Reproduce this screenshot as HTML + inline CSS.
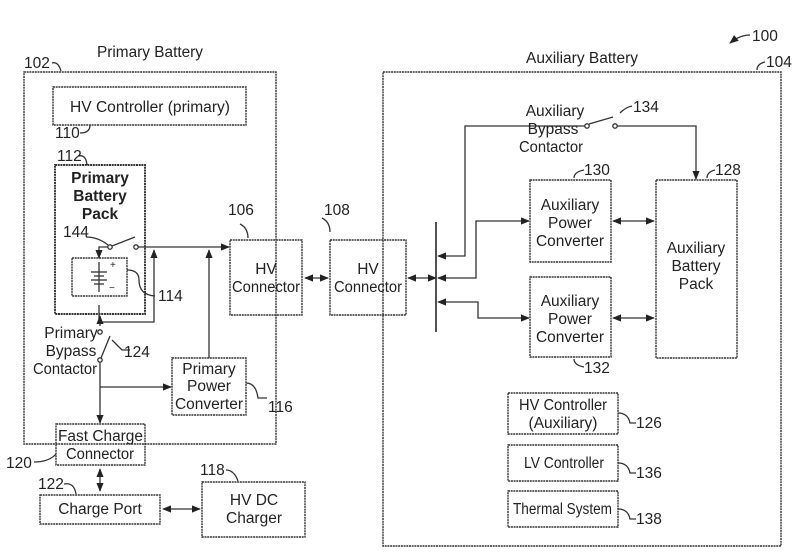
<!DOCTYPE html>
<html><head><meta charset="utf-8"><style>
html,body{margin:0;padding:0;background:#fff}
svg{display:block}
text{font-family:"Liberation Sans",sans-serif;fill:#222}
</style></head><body>
<svg width="797" height="557" viewBox="0 0 797 557" xmlns="http://www.w3.org/2000/svg">
<defs>
<marker id="a" viewBox="0 0 10 10" refX="9" refY="5" markerWidth="7" markerHeight="7" orient="auto-start-reverse"><path d="M0,1 L10,5 L0,9 z" fill="#222"/></marker>
</defs>
<g fill="none" stroke="#333" stroke-width="1.4" stroke-dasharray="2,0.7">
<rect x="24" y="72" width="252" height="372"/>
<rect x="53" y="87" width="193" height="38"/>
<rect x="55" y="165" width="90" height="149" stroke-width="1.9"/>
<rect x="72" y="258" width="55" height="38"/>
<rect x="230" y="240" width="72" height="75"/>
<rect x="330" y="240" width="76" height="75"/>
<rect x="172" y="358" width="74" height="57"/>
<rect x="56" y="424" width="89" height="41"/>
<rect x="40" y="495" width="120" height="29"/>
<rect x="202" y="482" width="103" height="55"/>
<rect x="383" y="72" width="398" height="474"/>
<rect x="530" y="180" width="81" height="82"/>
<rect x="530" y="277" width="81" height="80"/>
<rect x="656" y="180" width="81" height="178"/>
<rect x="508" y="393" width="110" height="41"/>
<rect x="508" y="445" width="110" height="36"/>
<rect x="508" y="491" width="110" height="36"/>
</g>
<g fill="none" stroke="#333" stroke-width="1.3">
<line x1="112" y1="246" x2="135" y2="237"/>
<circle cx="110" cy="247" r="2.2" fill="#fff"/>
<circle cx="136" cy="247" r="2.2" fill="#fff"/>
<path d="M108,247 H99 V258" marker-end="url(#a)"/>
<path d="M138,247 H229" marker-end="url(#a)"/>
<path d="M99,305 V322 H154 V250" marker-end="url(#a)"/>
<path d="M209,358 V250" marker-end="url(#a)"/>
<path d="M100,326 V316" marker-end="url(#a)"/>
<circle cx="100" cy="332" r="2.2" fill="#fff"/>
<circle cx="100" cy="360" r="2.2" fill="#fff"/>
<line x1="101" y1="358" x2="110" y2="336"/>
<path d="M100,362 V423" marker-end="url(#a)"/>
<path d="M100,387 H171" marker-end="url(#a)"/>
<path d="M100,469 V491" marker-start="url(#a)" marker-end="url(#a)"/>
<path d="M163,509 H200" marker-start="url(#a)" marker-end="url(#a)"/>
<path d="M305,278 H328" marker-start="url(#a)" marker-end="url(#a)"/>
<path d="M408,278 H436" marker-start="url(#a)" marker-end="url(#a)"/>
<line x1="436" y1="222" x2="436" y2="332" stroke-width="1.7"/>
<path d="M585,126 H465 V256 H438" marker-end="url(#a)"/>
<circle cx="587" cy="126" r="2.2" fill="#fff"/>
<circle cx="615" cy="126" r="2.2" fill="#fff"/>
<line x1="589" y1="124" x2="613" y2="117"/>
<path d="M617,126 H696 V179" marker-end="url(#a)"/>
<path d="M529,221 H476 V278 H438" marker-start="url(#a)" marker-end="url(#a)"/>
<path d="M438,302 H478 V318 H529" marker-start="url(#a)" marker-end="url(#a)"/>
<path d="M613,221 H654" marker-start="url(#a)" marker-end="url(#a)"/>
<path d="M613,318 H654" marker-start="url(#a)" marker-end="url(#a)"/>
<line x1="99" y1="262" x2="99" y2="292"/>
<line x1="91" y1="272" x2="107" y2="272"/>
<line x1="94" y1="276" x2="104" y2="276"/>
<line x1="91" y1="280" x2="107" y2="280"/>
<line x1="94" y1="284" x2="104" y2="284"/>
<path d="M52,63 q6,-2 9,8"/>
<path d="M80,133 q10,0 10,-8"/>
<path d="M78,156 q8,-2 9,9"/>
<path d="M86,237 q12,0 22,8"/>
<path d="M127,270 q12,0 12,10 q0,15 16,16"/>
<path d="M112,340 q8,8 10,10 h8"/>
<path d="M246,383 q10,0 12,15 h9"/>
<path d="M34,462 q15,0 22,-8"/>
<path d="M64,484 q10,-2 12,10"/>
<path d="M226,470 q8,0 12,11"/>
<path d="M248,238 q0,-10 -8,-14"/>
<path d="M330,232 q0,-10 -8,-14"/>
<path d="M620,113 q6,-6 12,-7"/>
<path d="M574,178 q0,-6 10,-8"/>
<path d="M574,359 q0,6 10,8"/>
<path d="M707,178 q0,-6 8,-8"/>
<path d="M757,70 q0,-6 8,-8"/>
<path d="M618,413 q10,0 12,10 h6"/>
<path d="M618,463 q10,0 12,10 h6"/>
<path d="M618,509 q10,0 12,10 h6"/>
<path d="M750,35 q-10,0 -20,8" marker-end="url(#a)"/>
</g>
<g font-size="15.5">
<text x="97" y="57" textLength="106" lengthAdjust="spacingAndGlyphs">Primary Battery</text>
<text x="526" y="63" textLength="112" lengthAdjust="spacingAndGlyphs">Auxiliary Battery</text>
<text x="70" y="112" textLength="160" lengthAdjust="spacingAndGlyphs">HV Controller (primary)</text>
<text x="100" y="183" text-anchor="middle" font-weight="bold">Primary</text>
<text x="100" y="201" text-anchor="middle" font-weight="bold">Battery</text>
<text x="100" y="219" text-anchor="middle" font-weight="bold">Pack</text>
<text x="266" y="274" text-anchor="middle">HV</text>
<text x="232" y="292" textLength="68" lengthAdjust="spacingAndGlyphs">Connector</text>
<text x="368" y="274" text-anchor="middle">HV</text>
<text x="334" y="292" textLength="68" lengthAdjust="spacingAndGlyphs">Connector</text>
<text x="71" y="338" text-anchor="middle">Primary</text>
<text x="71" y="356" text-anchor="middle">Bypass</text>
<text x="33" y="374" textLength="64" lengthAdjust="spacingAndGlyphs">Contactor</text>
<text x="209" y="374" text-anchor="middle">Primary</text>
<text x="209" y="391" text-anchor="middle">Power</text>
<text x="175" y="409" textLength="68" lengthAdjust="spacingAndGlyphs">Converter</text>
<text x="58" y="441" textLength="85" lengthAdjust="spacingAndGlyphs">Fast Charge</text>
<text x="66" y="459" textLength="68" lengthAdjust="spacingAndGlyphs">Connector</text>
<text x="100" y="514" text-anchor="middle">Charge Port</text>
<text x="254" y="505" text-anchor="middle">HV DC</text>
<text x="254" y="523" text-anchor="middle">Charger</text>
<text x="555" y="116" text-anchor="middle">Auxiliary</text>
<text x="553" y="134" text-anchor="middle">Bypass</text>
<text x="519" y="152" textLength="64" lengthAdjust="spacingAndGlyphs">Contactor</text>
<text x="570" y="210" text-anchor="middle">Auxiliary</text>
<text x="570" y="228" text-anchor="middle">Power</text>
<text x="536" y="246" textLength="68" lengthAdjust="spacingAndGlyphs">Converter</text>
<text x="570" y="306" text-anchor="middle">Auxiliary</text>
<text x="570" y="324" text-anchor="middle">Power</text>
<text x="536" y="342" textLength="68" lengthAdjust="spacingAndGlyphs">Converter</text>
<text x="696" y="253" text-anchor="middle">Auxiliary</text>
<text x="696" y="271" text-anchor="middle">Battery</text>
<text x="696" y="289" text-anchor="middle">Pack</text>
<text x="519" y="410" textLength="88" lengthAdjust="spacingAndGlyphs">HV Controller</text>
<text x="563" y="428" text-anchor="middle">(Auxiliary)</text>
<text x="524" y="468" textLength="80" lengthAdjust="spacingAndGlyphs">LV Controller</text>
<text x="513" y="514" textLength="99" lengthAdjust="spacingAndGlyphs">Thermal System</text>
<text x="24" y="68">102</text>
<text x="55" y="138">110</text>
<text x="57" y="161">112</text>
<text x="63" y="237">144</text>
<text x="158" y="301">114</text>
<text x="124" y="357">124</text>
<text x="268" y="412">116</text>
<text x="6" y="468">120</text>
<text x="38" y="489">122</text>
<text x="200" y="475">118</text>
<text x="228" y="215">106</text>
<text x="324" y="215">108</text>
<text x="633" y="112">134</text>
<text x="584" y="175">130</text>
<text x="584" y="373">132</text>
<text x="715" y="175">128</text>
<text x="766" y="67">104</text>
<text x="752" y="41">100</text>
<text x="636" y="428">126</text>
<text x="636" y="478">136</text>
<text x="636" y="524">138</text>
</g>
<g font-size="10"><text x="110" y="268">+</text><text x="109" y="291">−</text></g>
</svg>
</body></html>
